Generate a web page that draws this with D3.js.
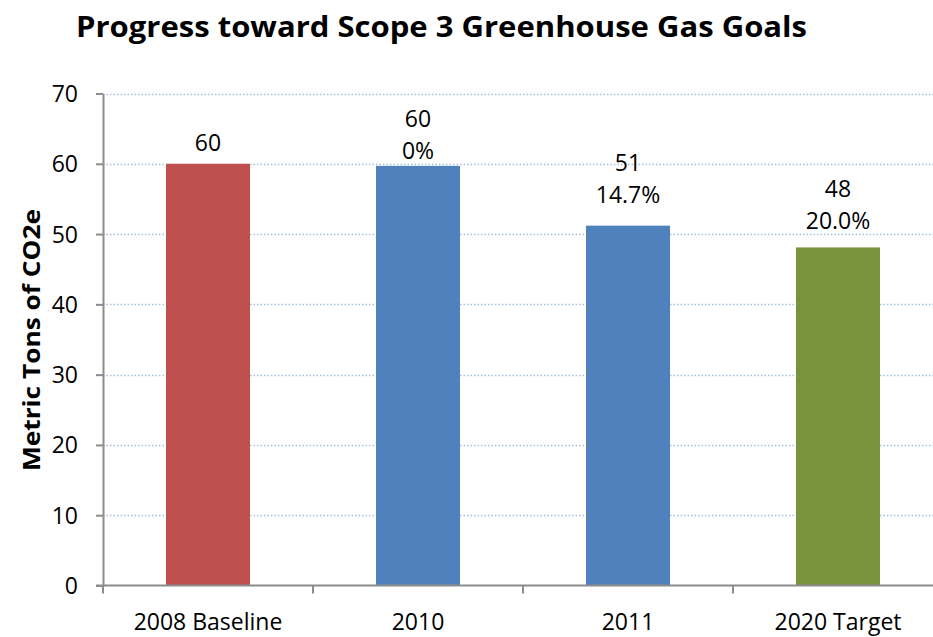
<!DOCTYPE html>
<meta charset="utf-8">
<style>
	body {
		margin: 0;
		background: #fff;
		font-family: "Open Sans", sans-serif;
	}
	.grid line {
		stroke: #a6bfe0;
		stroke-width: 1.5px;
		stroke-dasharray: 1.5 2;
	}
	.axis path, .axis line {
		stroke: #8c8c8c;
		stroke-width: 2px;
	}
	.axis text {
		font-family: "Open Sans", sans-serif;
		font-size: 23px;
		fill: #000;
	}
	.lbl {
		font-size: 23px;
		fill: #000;
		text-anchor: middle;
	}
</style>
<body>
<script src="https://cdn.jsdelivr.net/npm/d3@7"></script>
<script>

	// chart data
	var categories = ["2008 Baseline", "2010", "2011", "2020 Target"];
	var values = [60, 59.7, 51.2, 48.1];
	var valueLabels = ["60", "60", "51", "48"];
	var pctLabels = ["", "0%", "14.7%", "20.0%"];
	var barColors = ["#c0504d", "#4f81bd", "#4f81bd", "#77933c"];
	var yTicks = [0, 10, 20, 30, 40, 50, 60, 70];

	// gap (px) between bar top and the last label line, as placed in the original
	var labelGap = [13, 7, 23, 18];

	var width = 933,
			height = 637;

	// plot area runs off the right edge in the original
	var x0 = 103, x1 = 943, yTop = 93.5, yBot = 585.5;

	var x = d3.scaleBand()
			.domain(categories)
			.range([x0, x1])
			.paddingInner(0.6)
			.paddingOuter(0.3);

	var y = d3.scaleLinear()
			.domain([0, 70])
			.range([yBot, yTop]);

	var svg = d3.select("body").append("svg")
			.attr("width", width)
			.attr("height", height);

	// title
	svg.append("text")
			.attr("x", 76)
			.attr("y", 37)
			.attr("textLength", 731)
			.attr("lengthAdjust", "spacingAndGlyphs")
			.style("font-size", "28px")
			.style("font-weight", "bold")
			.text("Progress toward Scope 3 Greenhouse Gas Goals");

	// y axis title
	svg.append("text")
			.attr("transform", "translate(40,340) rotate(-90)")
			.attr("text-anchor", "middle")
			.attr("textLength", 262)
			.attr("lengthAdjust", "spacingAndGlyphs")
			.style("font-size", "23px")
			.style("font-weight", "bold")
			.text("Metric Tons of CO2e");

	// gridlines
	svg.append("g")
			.attr("class", "grid")
			.selectAll("line")
			.data(yTicks.filter(function(d) { return d > 0; }))
			.enter().append("line")
			.attr("x1", x0)
			.attr("x2", width)
			.attr("y1", function(d) { return Math.round(y(d)) + 0.5; })
			.attr("y2", function(d) { return Math.round(y(d)) + 0.5; });

	// bars
	svg.append("g")
			.selectAll("rect")
			.data(values)
			.enter().append("rect")
			.attr("x", function(d, i) { return x(categories[i]); })
			.attr("width", x.bandwidth())
			.attr("y", function(d) { return y(d); })
			.attr("height", function(d) { return y(0) - y(d); })
			.attr("fill", function(d, i) { return barColors[i]; });

	// data labels
	var labels = svg.append("g");
	values.forEach(function(v, i) {
		var cx = x(categories[i]) + x.bandwidth() / 2;
		var base = y(v) - labelGap[i];
		if (pctLabels[i]) {
			labels.append("text").attr("class", "lbl")
					.attr("x", cx).attr("y", base - 32).text(valueLabels[i]);
			labels.append("text").attr("class", "lbl")
					.attr("x", cx).attr("y", base).text(pctLabels[i]);
		} else {
			labels.append("text").attr("class", "lbl")
					.attr("x", cx).attr("y", base).text(valueLabels[i]);
		}
	});

	// y axis
	svg.append("g")
			.attr("class", "axis")
			.attr("transform", "translate(" + x0 + ",0)")
			.call(d3.axisLeft(y).tickValues(yTicks).tickSize(7).tickPadding(18).tickSizeOuter(0))
			.selectAll("text").attr("dy", "0.35em");

	// x axis, ticks sit between categories
	var xa = svg.append("g")
			.attr("class", "axis")
			.attr("transform", "translate(0," + yBot + ")");
	xa.append("line")
			.attr("x1", x0 - 7).attr("x2", width);
	var step = x.step();
	xa.selectAll(".tk")
			.data(d3.range(categories.length + 1))
			.enter().append("line")
			.attr("class", "tk")
			.attr("x1", function(i) { return x0 + i * step; })
			.attr("x2", function(i) { return x0 + i * step; })
			.attr("y1", 0).attr("y2", 8);
	xa.selectAll("text")
			.data(categories)
			.enter().append("text")
			.attr("x", function(d) { return x(d) + x.bandwidth() / 2; })
			.attr("y", 44)
			.attr("text-anchor", "middle")
			.text(function(d) { return d; });

</script>
</body>
